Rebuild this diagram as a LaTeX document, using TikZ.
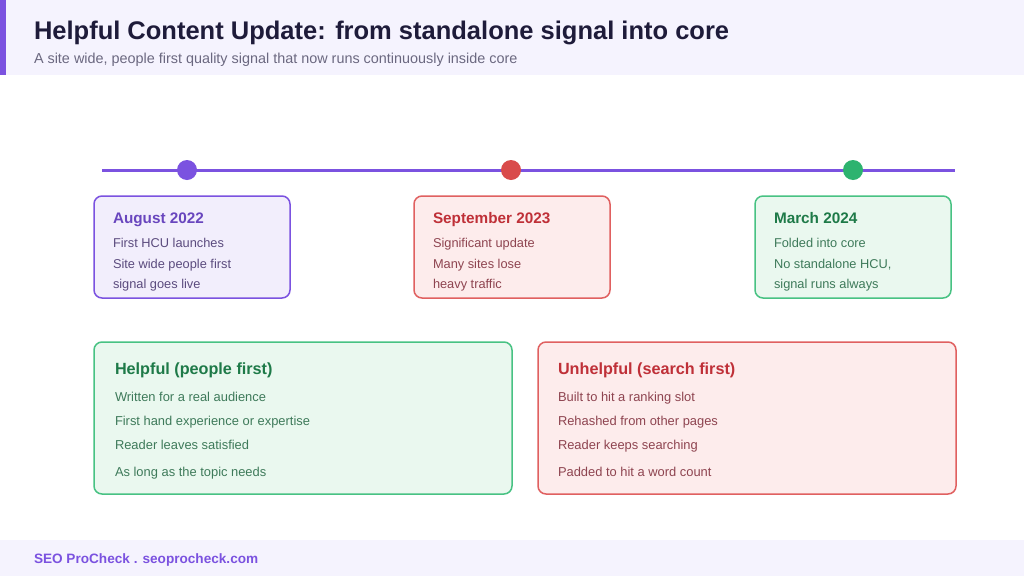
\documentclass[tikz,border=0pt]{standalone}
\usepackage{fontspec}
\setmainfont{Liberation Sans}
\begin{document}
\begin{tikzpicture}[x=1pt,y=-1pt,
  txt/.style={anchor=base west,inner sep=0pt,outer sep=0pt},
  card/.style={rounded corners=8pt,line width=1.5pt},
  dot/.style={circle,minimum size=20pt,inner sep=0pt},
  ctitle/.style={txt,font=\bfseries\fontsize{15.3}{18}\selectfont},
  cline/.style={txt,font=\fontsize{12.8}{15}\selectfont},
  btitle/.style={txt,font=\bfseries\fontsize{16.2}{19}\selectfont},
  bline/.style={txt,font=\fontsize{12.9}{16}\selectfont},
]
\definecolor{bandc}{HTML}{F5F3FE}
\definecolor{purp}{HTML}{7B52E0}
\definecolor{purpfill}{HTML}{F2EEFC}
\definecolor{purptxt}{HTML}{5B4B7E}
\definecolor{titc}{HTML}{1E1B3A}
\definecolor{subc}{HTML}{6B6880}
\definecolor{redc}{HTML}{D94B4B}
\definecolor{redstroke}{HTML}{E06060}
\definecolor{redfill}{HTML}{FDECEC}
\definecolor{redtit}{HTML}{BF3038}
\definecolor{redtxt}{HTML}{8E4450}
\definecolor{grnc}{HTML}{2DB36F}
\definecolor{grnstroke}{HTML}{48C283}
\definecolor{grnfill}{HTML}{EAF8EF}
\definecolor{grntit}{HTML}{1E7A48}
\definecolor{grntxt}{HTML}{3E7A5A}
\useasboundingbox (0,0) rectangle (1024,576);
\fill[white] (0,0) rectangle (1024,576);
% header
\fill[bandc] (0,0) rectangle (1024,75);
\fill[purp] (0,0) rectangle (6,75);
\node[txt,font=\bfseries\fontsize{25.5}{30}\selectfont,text=titc] (title) at (34,39) {Helpful Content Update: from standalone signal into core};
\node[txt,font=\fontsize{14.4}{17}\selectfont,text=subc] (sub) at (34,63) {A site wide, people first quality signal that now runs continuously inside core};
% footer
\fill[bandc] (0,540) rectangle (1024,576);
\node[txt,font=\bfseries\fontsize{13.6}{16}\selectfont,text=purp] (foot) at (34,563) {SEO ProCheck . seoprocheck.com};
% timeline
\coordinate (tl) at (102,170);
\coordinate (tr) at (955,170);
\draw[purp,line width=3pt] (tl) -- (tr);
\node[dot,fill=purp] (d1) at (187,170) {};
\node[dot,fill=redc] (d2) at (511,170) {};
\node[dot,fill=grnc] (d3) at (853,170) {};
% cards
\draw[card,draw=purp,fill=purpfill] (94,196) rectangle (290,298);
\node[ctitle,text=purp!85!black] (c1t) at (113,223) {August 2022};
\node[cline,text=purptxt] (c1a) at (113,247) {First HCU launches};
\node[cline,text=purptxt] (c1b) at (113,268) {Site wide people first};
\node[cline,text=purptxt] (c1c) at (113,288) {signal goes live};

\draw[card,draw=redstroke,fill=redfill] (414,196) rectangle (610,298);
\node[ctitle,text=redtit] (c2t) at (433,223) {September 2023};
\node[cline,text=redtxt] (c2a) at (433,247) {Significant update};
\node[cline,text=redtxt] (c2b) at (433,268) {Many sites lose};
\node[cline,text=redtxt] (c2c) at (433,288) {heavy traffic};

\draw[card,draw=grnstroke,fill=grnfill] (755,196) rectangle (951,298);
\node[ctitle,text=grntit] (c3t) at (774,223) {March 2024};
\node[cline,text=grntxt] (c3a) at (774,247) {Folded into core};
\node[cline,text=grntxt] (c3b) at (774,268) {No standalone HCU,};
\node[cline,text=grntxt] (c3c) at (774,288) {signal runs always};

% bottom boxes
\draw[card,draw=grnstroke,fill=grnfill] (94,342) rectangle (512,494);
\node[btitle,text=grntit] (ht) at (115,374) {Helpful (people first)};
\node[bline,text=grntxt] (h1) at (115,401) {Written for a real audience};
\node[bline,text=grntxt] (h2) at (115,425) {First hand experience or expertise};
\node[bline,text=grntxt] (h3) at (115,449) {Reader leaves satisfied};
\node[bline,text=grntxt] (h4) at (115,476) {As long as the topic needs};

\draw[card,draw=redstroke,fill=redfill] (538,342) rectangle (956,494);
\node[btitle,text=redtit] (ut) at (558,374) {Unhelpful (search first)};
\node[bline,text=redtxt] (u1) at (558,401) {Built to hit a ranking slot};
\node[bline,text=redtxt] (u2) at (558,425) {Rehashed from other pages};
\node[bline,text=redtxt] (u3) at (558,449) {Reader keeps searching};
\node[bline,text=redtxt] (u4) at (558,476) {Padded to hit a word count};
\end{tikzpicture}
\end{document}
